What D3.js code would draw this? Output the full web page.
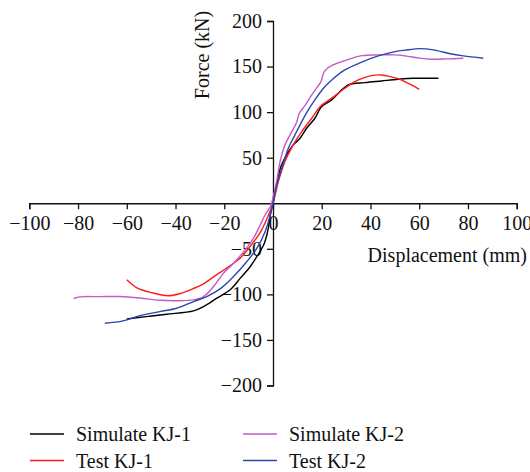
<!DOCTYPE html>
<html>
<head>
<meta charset="utf-8">
<script src="https://d3js.org/d3.v7.min.js"></script>
<style>
  body { margin: 0; background: #fff; }
  svg { display: block; }
</style>
</head>
<body>
<svg id="chart" width="530" height="472"></svg>
<script>
const FONT = "'Liberation Serif', 'DejaVu Serif', serif";

// displacement (mm), force (kN) pairs
const simulateKJ1 = [
  [-60, -127], [-52, -124.4], [-43.6, -121.8], [-32.6, -118.1], [-28.5, -113.4],
  [-23, -104.2], [-17.6, -95], [-13.4, -82.2], [-9.3, -69.4], [-6.6, -58.4],
  [-3.8, -45.6], [-2.2, -31], [-1.1, -12.6], [0, 0], [1, 12.7], [3, 38.4],
  [5.6, 53], [8.3, 64], [11.1, 71.3], [13.8, 82.3], [17.2, 93.3], [19.9, 106],
  [24.1, 113.4], [28.2, 124.4], [30.9, 129.9], [37.7, 132.4], [44.5, 134.2],
  [51.3, 136], [57.6, 137.1], [67.9, 137.1],
];
const testKJ1 = [
  [-60, -84], [-56, -92.5], [-50, -98], [-43, -101.5], [-38, -99], [-33, -94],
  [-28.5, -88.5], [-24, -80], [-19, -71], [-13.4, -60], [-9.3, -47], [-5.2, -32],
  [-1.8, -12.6], [0, 0], [2.2, 23.7], [4.9, 45.7], [8.3, 64], [11.8, 78.6],
  [15.9, 93.3], [19.3, 106], [24.1, 115.3], [29.5, 126.2], [35, 135.3],
  [40.4, 140.1], [44.5, 140.8], [48, 139], [52.1, 136], [56.2, 130.6], [60, 125],
];
const simulateKJ2 = [
  [-81.8, -104.5], [-79.3, -102.7], [-71, -102.5], [-62.8, -102.4], [-54.6, -104],
  [-46.4, -106.5], [-39.5, -107], [-32.6, -106], [-28.5, -102.4], [-24.4, -91.4],
  [-20.3, -76.7], [-16.2, -65.8], [-11.4, -51.1], [-8, -38.3], [-5.2, -23.6],
  [-3.2, -12.6], [-1.1, -3.5], [0, 6], [1.5, 23.7], [2.9, 45.7], [4.9, 64],
  [7, 75], [9.7, 88.9], [10.8, 98.8], [13.1, 107.1], [15.9, 118.9], [18.6, 129.1],
  [19.7, 133.5], [20.7, 142.7], [22, 147.4], [25.4, 152.6], [29.5, 156.5],
  [36.4, 162], [43.2, 162.8], [50.1, 162.8], [54.2, 161.7], [60.3, 159.2],
  [64.4, 158.1], [71.2, 158.4], [78.1, 159.2],
];
const testKJ2 = [
  [-69, -131.7], [-61.5, -129.1], [-54.6, -123.3], [-46.4, -118.9], [-39.5, -115.2],
  [-32.6, -107.9], [-27.2, -102.4], [-21.7, -94], [-16.2, -80.4], [-10.7, -63.9],
  [-6.6, -49.3], [-3.2, -31], [-1.1, -12.6], [0, 0], [1.5, 20.1], [3.6, 38.4],
  [6.3, 60.4], [9, 75], [11.8, 89.6], [14.5, 102.4], [17.2, 113.4], [20.7, 126.2],
  [24.1, 135.3], [29.5, 146.3], [36.4, 154.8], [43.2, 161.7], [50.1, 166.4],
  [54.2, 168], [60.3, 169.7], [65.8, 168.3], [72.7, 164], [78.1, 161.7], [86.3, 159.2],
];

const seriesNames = ["Simulate KJ-1", "Test KJ-1", "Simulate KJ-2", "Test KJ-2"];
const seriesData = [simulateKJ1, testKJ1, simulateKJ2, testKJ2];
const seriesColors = ["#000000", "#ff1a1a", "#c45ac4", "#2847b0"];

const xTicks = [-100, -80, -60, -40, -20, 0, 20, 40, 60, 80, 100];
const yTicks = [200, 150, 100, 50, -50, -100, -150, -200];

const svg = d3.select("#chart");

const x = d3.scaleLinear().domain([-100, 100]).range([29.3, 516.7]);
const y = d3.scaleLinear().domain([-200, 200]).range([385.5, 21]);

// x axis, through y = 0 (minor ticks every 10)
const xAxis = svg.append("g").attr("transform", `translate(0,${y(0)})`);
xAxis
  .call(d3.axisBottom(x).tickValues(d3.range(-100, 101, 10)).tickSize(3).tickFormat(""))
  .call((g) => g.select(".domain").remove());
xAxis.call(d3.axisBottom(x).tickValues(xTicks).tickSize(6).tickPadding(7));

// y axis, through x = 0 (minor ticks every 25)
const yAxis = svg.append("g").attr("transform", `translate(${x(0)},0)`);
yAxis
  .call(d3.axisLeft(y).tickValues(d3.range(-200, 201, 25)).tickSize(3).tickFormat(""))
  .call((g) => g.select(".domain").remove());
yAxis.call(d3.axisLeft(y).tickValues(yTicks).tickSize(6).tickPadding(5));

[xAxis, yAxis].forEach((g) => {
  g.attr("font-family", FONT).attr("font-size", 20);
  g.selectAll("text").attr("fill", "#111");
  g.selectAll("line, path").attr("stroke", "#111").attr("stroke-width", 1.3);
});

svg.append("text")
  .attr("x", 527)
  .attr("y", 262)
  .attr("text-anchor", "end")
  .attr("font-family", FONT)
  .attr("font-size", 20)
  .attr("fill", "#111")
  .text("Displacement (mm)");

svg.append("text")
  .attr("transform", "translate(209,55) rotate(-90)")
  .attr("text-anchor", "middle")
  .attr("font-family", FONT)
  .attr("font-size", 20)
  .attr("fill", "#111")
  .text("Force (kN)");

const line = d3
  .line()
  .x((d) => x(d[0]))
  .y((d) => y(d[1]))
  .curve(d3.curveCatmullRom.alpha(0.5));

svg.append("g")
  .selectAll("path")
  .data(seriesData)
  .join("path")
  .attr("d", line)
  .attr("fill", "none")
  .attr("stroke", (d, i) => seriesColors[i])
  .attr("stroke-width", 1.4)
  .attr("stroke-linejoin", "round");

// legend: two columns, two rows
const legendX = [30, 243];
const legendY = [434, 460.5];
const legend = svg.append("g")
  .attr("font-family", FONT)
  .attr("font-size", 20)
  .selectAll("g")
  .data(seriesNames)
  .join("g")
  .attr("transform", (d, i) => `translate(${legendX[Math.floor(i / 2)]},${legendY[i % 2]})`);
legend.append("line")
  .attr("x1", 0)
  .attr("x2", 34)
  .attr("stroke", (d, i) => seriesColors[i])
  .attr("stroke-width", 1.4);
legend.append("text")
  .attr("x", 46)
  .attr("y", 7)
  .attr("fill", "#111")
  .text((d) => d);
</script>
</body>
</html>
